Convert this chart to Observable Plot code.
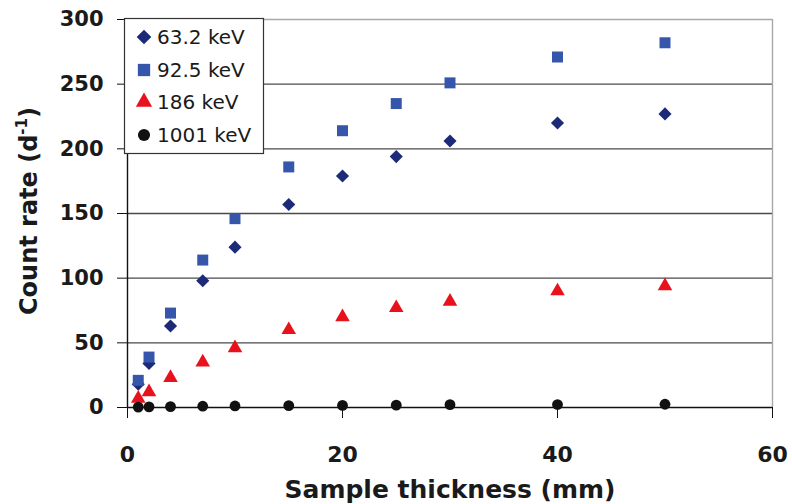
<!DOCTYPE html>
<html>
<head>
<meta charset="utf-8">
<script src="https://cdn.jsdelivr.net/npm/d3@7"></script>
<script src="https://cdn.jsdelivr.net/npm/@observablehq/plot@0.6"></script>
<style>
  html, body { margin: 0; padding: 0; background: #fff; }
  #chart { width: 792px; height: 504px; }
</style>
</head>
<body>
<div id="chart"></div>
<script>
const thickness = [1, 2, 4, 7, 10, 15, 20, 25, 30, 40, 50];
const kev63  = [18, 34, 63, 98, 124, 157, 179, 194, 206, 220, 227];
const kev92  = [21, 39, 73, 114, 146, 186, 214, 235, 251, 271, 282];
const kev186 = [7, 12, 23, 35, 46, 60, 70, 77, 82, 90, 94];
const kev1001 = [0.3, 0.5, 0.7, 1.0, 1.2, 1.5, 1.6, 1.8, 2.2, 2.3, 2.5];
const seriesNames = ["63.2 keV", "92.5 keV", "186 keV", "1001 keV"];
const xTicks = [0, 20, 40, 60];
const yTicks = [0, 50, 100, 150, 200, 250, 300];
const gridValues = [50, 100, 150, 200, 250];
const xLabel = "Sample thickness (mm)";

const styles = [
  {symbol: "diamond2", fill: "#1c2a78", r: 5.9},
  {symbol: "square",   fill: "#3656ab", r: 6.2},
  {symbol: "triangle", fill: "#e8121c", r: 5.4},
  {symbol: "circle",   fill: "#111111", r: 5.4}
];
const seriesValues = [kev63, kev92, kev186, kev1001];
const tables = seriesValues.map(vals => thickness.map((t, i) => ({x: t, y: vals[i]})));

const chart = Plot.plot({
  width: 792,
  height: 504,
  marginLeft: 127,
  marginRight: 20,
  marginTop: 19,
  marginBottom: 97,
  style: {fontFamily: "DejaVu Sans", color: "#1a1a1a", background: "#fff"},
  x: {domain: [0, 60]},
  y: {domain: [0, 300]},
  marks: [
    Plot.ruleY(gridValues, {stroke: "#4a4a4a", strokeWidth: 1.4}),
    Plot.ruleY([300], {stroke: "#a8a8a8", strokeWidth: 1.4}),
    Plot.ruleX([60], {stroke: "#a8a8a8", strokeWidth: 1.4}),
    Plot.ruleX([0], {stroke: "#111", strokeWidth: 1.4}),
    Plot.ruleY([0], {stroke: "#111", strokeWidth: 1.4}),
    Plot.axisY({ticks: yTicks, tickSize: 10, tickPadding: 14, fontSize: 21, fontWeight: "bold", label: null, stroke: "#111"}),
    Plot.axisX({ticks: xTicks, tickSize: 11, tickPadding: 28, fontSize: 22, fontWeight: "bold", label: null, stroke: "#111"}),
    Plot.text([xLabel], {frameAnchor: "bottom", lineAnchor: "bottom", dy: 90, fontSize: 25, fontWeight: "bold", fill: "#1a1a1a"}),
    ...tables.map((tbl, k) => Plot.dot(tbl, {x: "x", y: "y", symbol: () => styles[k].symbol, fill: styles[k].fill, r: styles[k].r, stroke: "none"}))
  ]
});
document.getElementById("chart").appendChild(chart);

const svg = d3.select(chart);
// Y axis label with superscript
const yl = svg.append("text")
  .attr("transform", "translate(37,211) rotate(-90)")
  .attr("text-anchor", "middle")
  .attr("font-family", "DejaVu Sans")
  .attr("font-weight", "bold")
  .attr("font-size", 24)
  .attr("fill", "#1a1a1a");
yl.append("tspan").text("Count rate (d");
yl.append("tspan").attr("font-size", 15).attr("dy", -10).text("-1");
yl.append("tspan").attr("dy", 10).text(")");

// Legend
const lg = svg.append("g");
lg.append("rect").attr("x", 124.5).attr("y", 18.5).attr("width", 139).attr("height", 135)
  .attr("fill", "#fff").attr("stroke", "#333").attr("stroke-width", 1.2);
const rowY = [37, 70, 102, 135];
const symMap = {diamond2: d3.symbolDiamond2, square: d3.symbolSquare, triangle: d3.symbolTriangle, circle: d3.symbolCircle};
seriesNames.forEach((name, k) => {
  const s = styles[k];
  const rr = s.r * 1.12;
  lg.append("path")
    .attr("transform", `translate(144,${rowY[k]})`)
    .attr("d", d3.symbol(symMap[s.symbol], rr * rr * Math.PI)())
    .attr("fill", s.fill);
  lg.append("text")
    .attr("x", 157).attr("y", rowY[k] + 7)
    .attr("text-anchor", "start")
    .attr("font-family", "DejaVu Sans")
    .attr("font-size", 20)
    .attr("fill", "#1a1a1a")
    .text(name);
});
</script>
</body>
</html>
